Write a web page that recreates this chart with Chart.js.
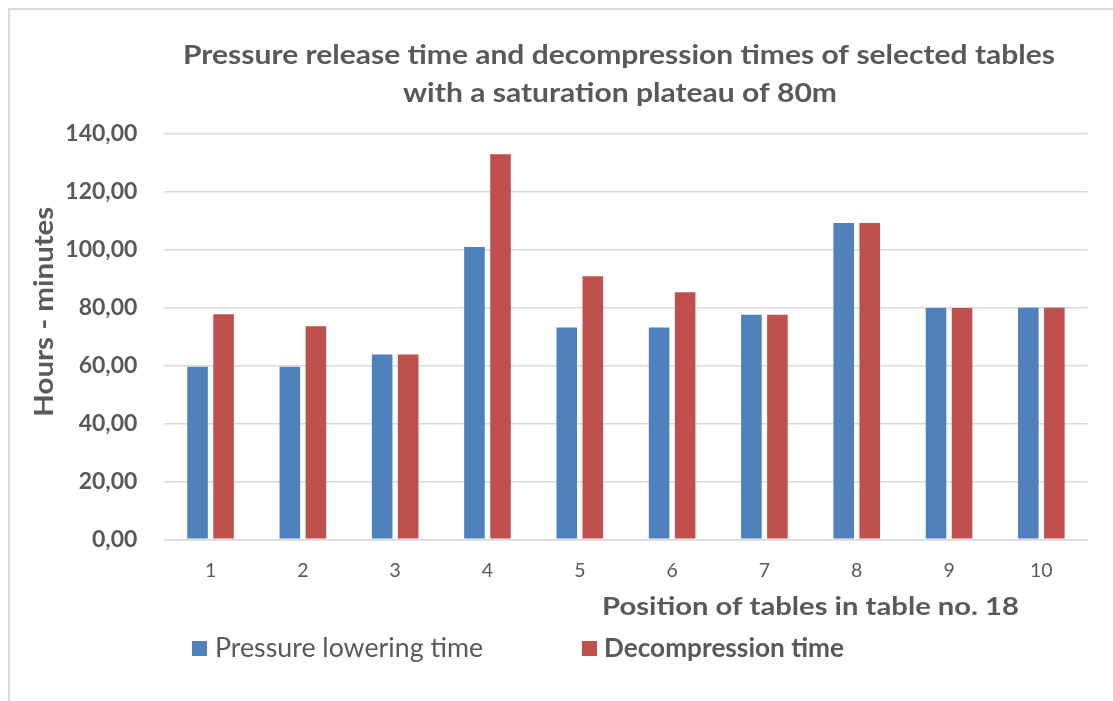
<!DOCTYPE html>
<html><head><meta charset="utf-8">
<script src="https://cdn.jsdelivr.net/npm/chart.js@4.4.0/dist/chart.umd.min.js"></script>
<style>html,body{margin:0;padding:0;background:#fff;overflow:hidden}#wrap{position:relative;width:1113px;height:701px}</style>
</head><body><div id="wrap"><canvas id="c" width="1113" height="701"></canvas></div>
<script>
const categories = ['1','2','3','4','5','6','7','8','9','10'];
const pressureLoweringTime = [59.6, 59.6, 63.8, 101.0, 73.2, 73.2, 77.6, 109.3, 79.9, 80.0];
const decompressionTime = [77.7, 73.6, 63.8, 133.0, 90.9, 85.3, 77.6, 109.3, 79.9, 80.0];
const yTickValues = [0, 20, 40, 60, 80, 100, 120, 140];
const chartTitle = ['Pressure release time and decompression times of selected tables', 'with a saturation plateau of 80m'];
const yAxisTitle = 'Hours - minutes';
const xAxisTitle = 'Position of tables in table no. 18';
const seriesNames = ['Pressure lowering time', 'Decompression time'];
const seriesColors = ['#4f81bd', '#c0504d'];

const FAMILY = 'Lato, "Open Sans", sans-serif';
const TEXT = '#595959';

// draws text compressed horizontally to a given width (Calibri-like condensed look)
function condensed(ctx, text, x, y, font, width, align, rot) {
  ctx.save();
  ctx.font = font;
  const w = ctx.measureText(text).width;
  ctx.translate(x, y);
  if (rot) ctx.rotate(rot);
  ctx.scale(width / w, 1);
  ctx.textAlign = align;
  ctx.textBaseline = 'alphabetic';
  ctx.fillText(text, 0, 0);
  ctx.restore();
}

const decor = {
  id: 'decor',
  beforeDraw(chart) {
    const ctx = chart.ctx;
    ctx.save();
    ctx.fillStyle = '#fff';
    ctx.fillRect(0, 0, chart.width, chart.height);
    ctx.strokeStyle = '#d9d9d9';
    ctx.lineWidth = 2;
    ctx.beginPath();
    ctx.moveTo(9, 701); ctx.lineTo(9, 9); ctx.lineTo(1113, 9);
    ctx.stroke();
    ctx.restore();
  },
  afterDraw(chart) {
    const ctx = chart.ctx;
    ctx.save();
    ctx.fillStyle = TEXT;
    const tf = 'bold 26.5px ' + FAMILY;
    condensed(ctx, chartTitle[0], 619, 64, tf, 872, 'center');
    condensed(ctx, chartTitle[1], 620, 102, tf, 434, 'center');
    condensed(ctx, xAxisTitle, 810.5, 614.5, 'bold 25.5px ' + FAMILY, 417, 'center');
    condensed(ctx, yAxisTitle, 53, 311.7, 'bold 27px ' + FAMILY, 210, 'center', -Math.PI / 2);
    // legend
    ctx.fillStyle = seriesColors[0];
    ctx.fillRect(192, 641, 15, 15);
    ctx.fillStyle = TEXT;
    condensed(ctx, seriesNames[0], 215, 656.5, 'normal 27px ' + FAMILY, 268, 'left');
    ctx.fillStyle = seriesColors[1];
    ctx.fillRect(582, 641, 15, 15);
    ctx.fillStyle = TEXT;
    condensed(ctx, seriesNames[1], 604, 656.5, 'bold 27px ' + FAMILY, 240, 'left');
    ctx.restore();
  }
};

new Chart(document.getElementById('c'), {
  type: 'bar',
  data: {
    labels: categories,
    datasets: [
      { label: seriesNames[0], data: pressureLoweringTime, backgroundColor: seriesColors[0] },
      { label: seriesNames[1], data: decompressionTime, backgroundColor: seriesColors[1] }
    ]
  },
  options: {
    responsive: false,
    animation: false,
    devicePixelRatio: 1,
    categoryPercentage: 0.564,
    barPercentage: 0.79,
    layout: { padding: { left: 0, right: 25.5, top: 134, bottom: 121.7 } },
    plugins: { legend: { display: false }, title: { display: false }, tooltip: { enabled: false } },
    scales: {
      x: {
        grid: { display: false, drawTicks: false },
        border: { color: '#d9d9d9', width: 1.5 },
        ticks: { color: TEXT, font: { family: FAMILY, size: 19.5 }, padding: 20 },
        afterFit(s) { s.height = 40; }
      },
      y: {
        min: 0, max: 140,
        afterBuildTicks(s) { s.ticks = yTickValues.map(v => ({ value: v })); },
        grid: { color: '#d9d9d9', lineWidth: 1.5, drawTicks: false },
        border: { display: false },
        ticks: {
          color: TEXT, padding: 27,
          font: { family: FAMILY, size: 23, weight: 'bold' },
          callback: v => v.toFixed(2).replace('.', ',')
        },
        afterFit(s) { s.width = 164.4; }
      }
    }
  },
  plugins: [decor]
});
</script></body></html>
